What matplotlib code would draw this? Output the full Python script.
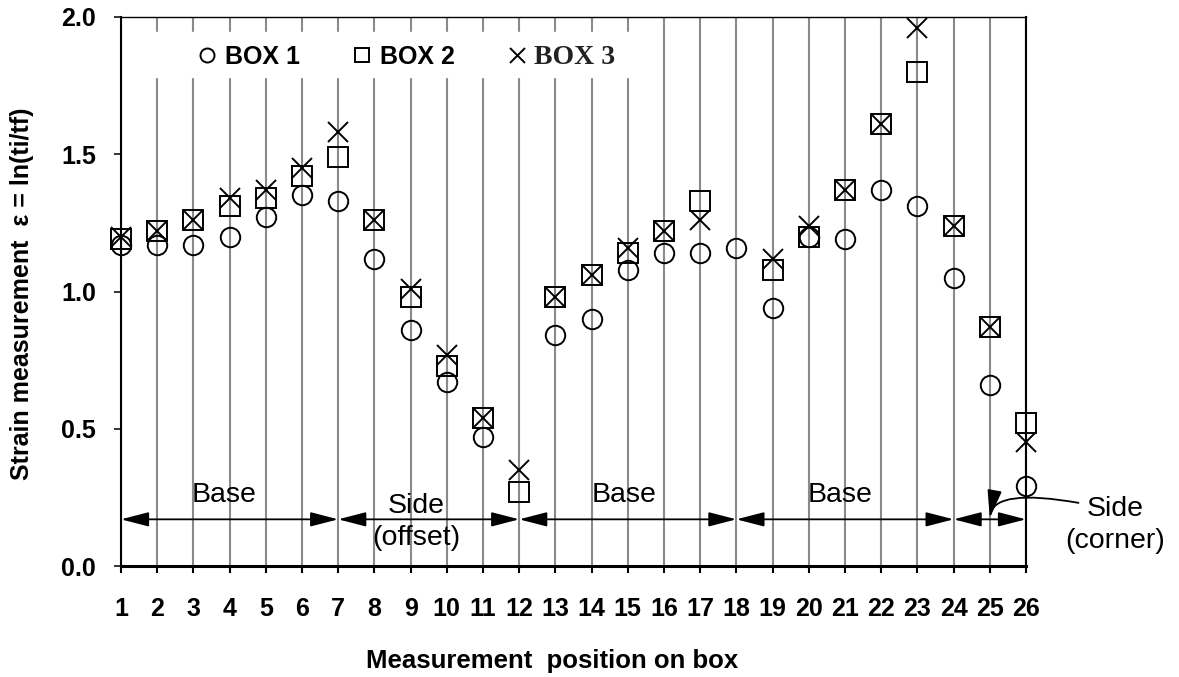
import numpy as np
import matplotlib.pyplot as plt

plt.rcParams['font.family'] = 'Liberation Sans'

# strain per measurement position, one list per box (nan = not measured)
positions = np.arange(1, 27)
box1 = [1.17, 1.17, 1.17, 1.20, 1.27, 1.35, 1.33, 1.12, 0.86, 0.67, 0.47, np.nan, 0.84,
        0.90, 1.08, 1.14, 1.14, 1.16, 0.94, 1.20, 1.19, 1.37, 1.31, 1.05, 0.66, 0.29]
box2 = [1.19, 1.22, 1.26, 1.31, 1.34, 1.42, 1.49, 1.26, 0.98, 0.73, 0.54, 0.27, 0.98,
        1.06, 1.14, 1.22, 1.33, np.nan, 1.08, 1.20, 1.37, 1.61, 1.80, 1.24, 0.87, 0.52]
box3 = [1.20, 1.22, 1.26, 1.34, 1.37, 1.45, 1.58, 1.26, 1.01, 0.77, 0.54, 0.35, 0.98,
        1.06, 1.16, 1.22, 1.26, np.nan, 1.12, 1.24, 1.37, 1.61, 1.96, 1.24, 0.87, 0.45]
yticks = [0.0, 0.5, 1.0, 1.5, 2.0]

# zones of the box: (start, end)
zones = [(1, 7), (7, 12), (12, 18), (18, 24), (24, 26)]
zone_y = 0.17

fig = plt.figure(figsize=(11.79, 6.77), dpi=100)
ax = fig.add_axes([121 / 1179, 1 - 566 / 677, 905 / 1179, 549 / 677])

mk = dict(ls='none', mfc='none', mec='black', clip_on=False, zorder=4)
ax.plot(positions, box1, marker='o', ms=14, mew=1.4, label='BOX 1', **mk)
ax.plot(positions, box2, marker='s', ms=14.5, mew=1.4, label='BOX 2', **mk)
ax.plot(positions, box3, marker='x', ms=15, mew=1.4, label='BOX 3', **mk)

ax.set_xlim(1, 26)
ax.set_ylim(0, 2.0)
ax.set_xticks(positions)
ax.set_yticks(yticks)
ax.set_xticklabels([str(p) for p in positions], fontsize=18, fontweight='bold')
ax.set_yticklabels([f'{v:.1f}' for v in yticks], fontsize=18, fontweight='bold')
ax.tick_params(axis='x', direction='out', length=5, width=1.5, pad=17)
ax.tick_params(axis='y', direction='out', length=5, width=1.1, pad=13)

ax.set_axisbelow(True)
ax.grid(True, axis='x', color='#8a8a8a', lw=1.5)
ax.grid(False, axis='y')

ax.spines['bottom'].set_linewidth(2.2)
ax.spines['left'].set_linewidth(1.5)
ax.spines['right'].set_linewidth(1.5)
ax.spines['top'].set_linewidth(1.0)

# white band behind the legend
ax.axhspan(1.78, 1.945, xmin=0.02, xmax=0.57, color='white', zorder=1)

leg = ax.legend(ncol=3, loc='center left', bbox_to_anchor=(0.084, 0.926),
                frameon=False, prop={'weight': 'bold', 'size': 18},
                markerscale=0.72, handlelength=0.8, handletextpad=0.3,
                columnspacing=2.1, borderpad=0, borderaxespad=0)
t3 = leg.get_texts()[2]
t3.set_fontfamily('Liberation Serif')
t3.set_fontsize(20)
t3.set_color('#222222')

# double-headed arrows marking the zones
head = dict(mutation_scale=20, lw=1.3, color='black', shrinkA=0, shrinkB=0)
for a, b in zones:
    ax.annotate('', xy=(b, zone_y), xytext=(a, zone_y), zorder=3,
                arrowprops=dict(arrowstyle='<|-|>,head_length=0.85,head_width=0.22',
                                **head))

zt = dict(fontsize=20.5, ha='center', va='baseline', linespacing=1.27, zorder=3)
ax.text(3.85, 0.234, 'Base', **zt)
ax.text(9.15, 0.077, 'Side\n(offset)', **zt)
ax.text(14.9, 0.234, 'Base', **zt)
ax.text(20.85, 0.234, 'Base', **zt)
ax.text(28.47, 0.067, 'Side\n(corner)', clip_on=False, **zt)
ax.annotate('', xy=(25, 0.175), xytext=(27.45, 0.23), annotation_clip=False,
            arrowprops=dict(arrowstyle='-|>,head_length=0.85,head_width=0.22',
                            connectionstyle='angle3,angleA=170,angleB=80', **head))

fig.text(22 / 1179, 1 - 294 / 677, 'Strain measurement  ε = ln(ti/tf)',
         rotation=90, ha='center', va='center', fontsize=18, fontweight='bold')
fig.text(552 / 1179, 1 - 668 / 677, 'Measurement  position on box',
         ha='center', va='baseline', fontsize=18.5, fontweight='bold')

fig.savefig('out.png', dpi=100)
